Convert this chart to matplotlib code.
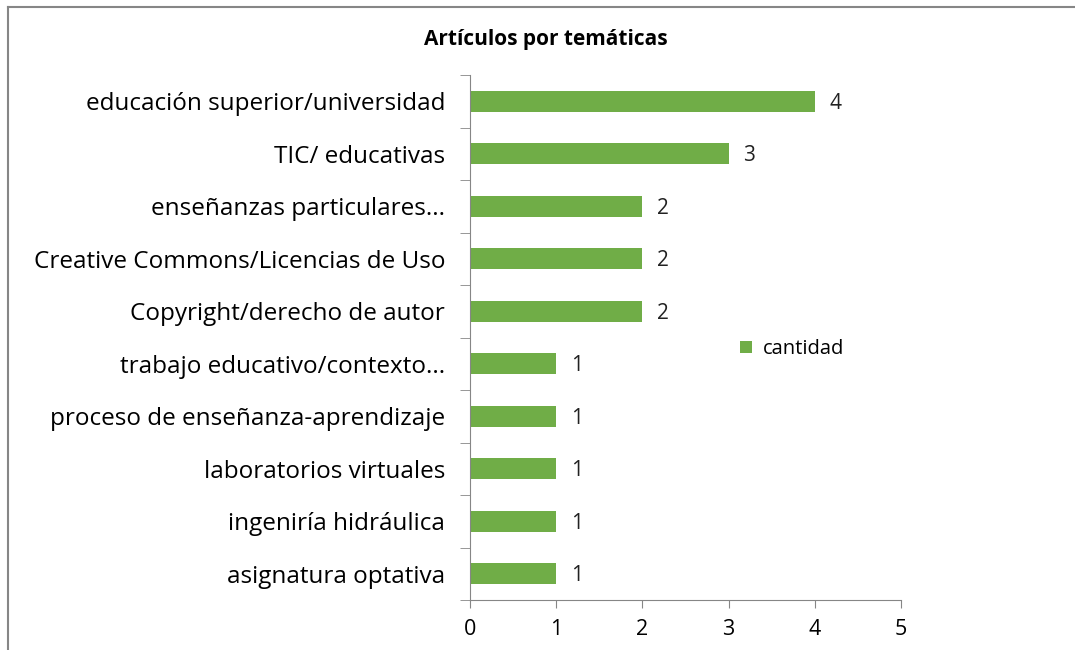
import matplotlib.pyplot as plt
from matplotlib.lines import Line2D

plt.rcParams['font.family'] = ['Open Sans', 'DejaVu Sans']

# datos (de abajo hacia arriba)
temas = ["asignatura optativa", "ingeniría hidráulica", "laboratorios virtuales",
         "proceso de enseñanza-aprendizaje", "trabajo educativo/contexto...",
         "Copyright/derecho de autor", "Creative Commons/Licencias de Uso",
         "enseñanzas particulares...", "TIC/ educativas",
         "educación superior/universidad"]
cantidad = [1, 1, 1, 1, 1, 2, 2, 2, 3, 4]
x_ticks = [0, 1, 2, 3, 4, 5]

verde = '#70AD47'
gris = '#868686'

fig = plt.figure(figsize=(10.75, 6.5), dpi=100)
ax = fig.add_axes([470 / 1075, 50 / 650, 431 / 1075, 525 / 650])

pos = list(range(len(temas)))
ax.barh(pos, cantidad, height=0.4, color=verde, label='cantidad')
for p, v in zip(pos, cantidad):
    ax.text(v + 0.17, p - 0.04, str(v), va='center', ha='left', fontsize=15, color='#222222')

ax.set_xlim(0, 5)
ax.set_ylim(-0.5, len(temas) - 0.5)
ax.set_xticks(x_ticks)
ax.set_xticklabels([str(t) for t in x_ticks], fontsize=15.5)
ax.set_yticks(pos)
ax.set_yticklabels(temas, fontsize=17.5)
ax.set_yticks([p - 0.5 for p in pos] + [len(temas) - 0.5], minor=True)
ax.tick_params(axis='y', which='major', length=0, pad=18)
ax.tick_params(axis='y', which='minor', length=7, color=gris)
ax.tick_params(axis='x', length=6, color=gris, pad=8)

for s in ['top', 'right']:
    ax.spines[s].set_visible(False)
for s in ['left', 'bottom']:
    ax.spines[s].set_color(gris)

ax.legend(loc='center left', bbox_to_anchor=(0.585, 0.478), frameon=False,
          fontsize=14.5, handlelength=0.6, handleheight=0.6, handletextpad=0.5)

fig.text(0.508, 0.94, 'Artículos por temáticas', ha='center', va='center',
         fontsize=15, fontweight='bold')

# marco del gráfico
fig.add_artist(Line2D([8 / 1075, 8 / 1075], [0, 1 - 7 / 650], color=gris, lw=1.5))
fig.add_artist(Line2D([8 / 1075, 1], [1 - 7 / 650, 1 - 7 / 650], color=gris, lw=1.5))

fig.savefig('out.png', dpi=100)
